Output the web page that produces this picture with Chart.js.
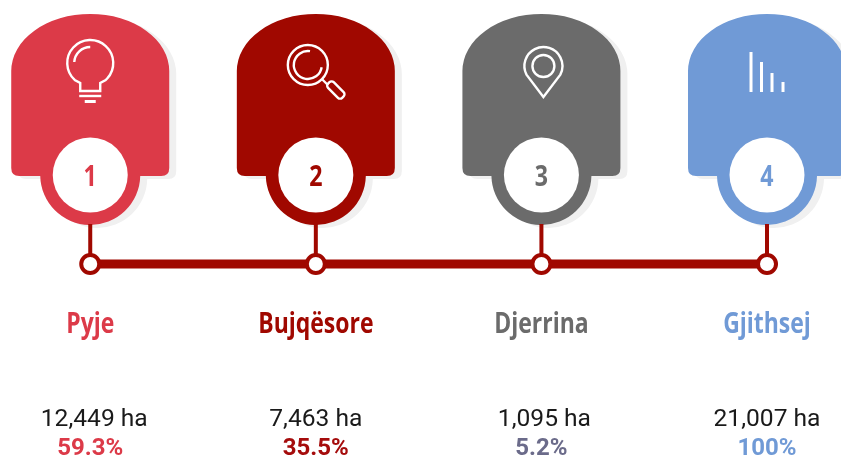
<!DOCTYPE html>
<html>
<head>
<meta charset="utf-8">
<title>Pyje Bujqësore Djerrina</title>
<script src="https://cdn.jsdelivr.net/npm/chart.js@4"></script>
<style>
    html, body { margin: 0; padding: 0; background: #fff; }
    canvas { display: block; }
</style>
</head>
<body>
<canvas id="timeline" width="841" height="457"></canvas>
<script>
// data //
const steps = [1, 2, 3, 4];
const categories = ["Pyje", "Bujqësore", "Djerrina", "Gjithsej"];
const hectares = [12449, 7463, 1095, 21007];
const shares = [59.3, 35.5, 5.2, 100];

// look //
const cardColors = ["#dc3a48", "#a00800", "#6b6b6b", "#709ad6"];
const shareColors = ["#dc3a48", "#a50c0c", "#6b6b8a", "#709ad6"];
const lineColor = "#a00800";
// the ha labels of the 1st and 3rd column sit a little right of the column
const valueNudge = [4, 0, 3, 0];

// no condensed font installed, so squeeze the normal one
function condensedText(ctx, text, x, y, squeeze) {
    ctx.save();
    ctx.translate(x, y);
    ctx.scale(squeeze, 1);
    ctx.fillText(text, 0, 0);
    ctx.restore();
}

// the body of one card, cx/ny are the column centre and the timeline height
function cardPath(ctx, cx, ny) {
    const top = ny - 250, shoulder = ny - 193, bottom = ny - 88;
    ctx.beginPath();
    ctx.moveTo(cx - 79, shoulder);
    ctx.ellipse(cx, shoulder, 79, shoulder - top, 0, Math.PI, 2 * Math.PI);
    ctx.lineTo(cx + 79, bottom - 8);
    ctx.quadraticCurveTo(cx + 79, bottom, cx + 71, bottom);
    ctx.lineTo(cx + 48, bottom);
    ctx.arc(cx, ny - 89, 50, 0.02, Math.PI - 0.02);
    ctx.lineTo(cx - 71, bottom);
    ctx.quadraticCurveTo(cx - 79, bottom, cx - 79, bottom - 8);
    ctx.closePath();
}

function drawBulb(ctx, cx, y) {
    ctx.beginPath();
    ctx.arc(cx, y, 23, 0.72 * Math.PI + 0.05, 0.28 * Math.PI - 0.05);
    ctx.lineTo(cx + 10, y + 20);
    ctx.lineTo(cx + 10, y + 28);
    ctx.lineTo(cx - 10, y + 28);
    ctx.lineTo(cx - 10, y + 20);
    ctx.closePath();
    ctx.stroke();
    ctx.beginPath();
    ctx.arc(cx, y, 16, 1.02 * Math.PI, 1.5 * Math.PI);
    ctx.stroke();
    ctx.beginPath();
    ctx.moveTo(cx - 11, y + 33);
    ctx.lineTo(cx + 11, y + 33);
    ctx.stroke();
    ctx.fillRect(cx - 5.5, y + 37, 11, 3);
}

function drawLens(ctx, cx, y) {
    const gx = cx - 8;
    ctx.beginPath();
    ctx.arc(gx, y, 20, 0, 2 * Math.PI);
    ctx.stroke();
    ctx.beginPath();
    ctx.arc(gx, y, 14, 0.05 * Math.PI, 1.55 * Math.PI);
    ctx.stroke();
    ctx.beginPath();
    ctx.moveTo(gx + 14, y + 14);
    ctx.lineTo(gx + 20, y + 20);
    ctx.stroke();
    // handle
    ctx.save();
    ctx.translate(gx + 28, y + 25);
    ctx.rotate(Math.PI / 4);
    ctx.beginPath();
    ctx.roundRect(-10, -4, 20, 8, 3);
    ctx.stroke();
    ctx.restore();
}

function drawPin(ctx, cx, y) {
    const px = cx + 2;
    ctx.beginPath();
    ctx.arc(px, y, 19, 0.85 * Math.PI, 0.15 * Math.PI);
    ctx.lineTo(px, y + 31);
    ctx.closePath();
    ctx.stroke();
    ctx.beginPath();
    ctx.arc(px, y, 11, 0, 2 * Math.PI);
    ctx.stroke();
}

function drawBars(ctx, cx, y) {
    [[-16, 40], [-5.5, 30], [5, 19], [16, 10]].forEach(function (bar) {
        ctx.fillRect(cx + bar[0] - 1.5, y + 27 - bar[1], 3, bar[1]);
    });
}

const icons = [drawBulb, drawLens, drawPin, drawBars];
const iconHeights = [63, 65, 66, 65];

// cards go under the timeline, the captions on top of everything
const cardsPlugin = {
    id: "cards",
    beforeDatasetsDraw(chart) {
        const ctx = chart.ctx;
        const ny = chart.scales.y.getPixelForValue(0);
        ctx.save();
        steps.forEach(function (step, i) {
            const cx = chart.scales.x.getPixelForValue(i);
            ctx.save();
            ctx.translate(7, 3);
            cardPath(ctx, cx, ny);
            ctx.fillStyle = "#f0f0f0";
            ctx.fill();
            ctx.restore();
        });
        steps.forEach(function (step, i) {
            const cx = chart.scales.x.getPixelForValue(i);
            cardPath(ctx, cx, ny);
            ctx.fillStyle = cardColors[i];
            ctx.fill();

            ctx.beginPath();
            ctx.arc(cx, ny - 89, 37.5, 0, 2 * Math.PI);
            ctx.fillStyle = "#fff";
            ctx.fill();

            ctx.fillStyle = cardColors[i];
            ctx.font = "bold 29px 'Open Sans'";
            ctx.textAlign = "center";
            ctx.textBaseline = "alphabetic";
            condensedText(ctx, String(step), cx, ny - 78, 0.8);

            ctx.strokeStyle = "#fff";
            ctx.fillStyle = "#fff";
            ctx.lineWidth = 2.4;
            icons[i](ctx, cx, iconHeights[i]);
        });
        ctx.restore();
    },
    afterDatasetsDraw(chart) {
        const ctx = chart.ctx;
        const ny = chart.scales.y.getPixelForValue(0);
        ctx.save();
        ctx.textAlign = "center";
        ctx.textBaseline = "alphabetic";
        categories.forEach(function (name, i) {
            const cx = chart.scales.x.getPixelForValue(i);
            ctx.fillStyle = cardColors[i];
            ctx.font = "bold 28px 'Open Sans'";
            condensedText(ctx, name, cx, ny + 69, 0.82);

            ctx.fillStyle = "#1a1a1a";
            ctx.font = "24.6px Roboto";
            ctx.fillText(hectares[i].toLocaleString("en-US") + " ha", cx + valueNudge[i], ny + 162);

            ctx.fillStyle = shareColors[i];
            ctx.font = "bold 24px Roboto";
            ctx.fillText(shares[i] + "%", cx, ny + 191);
        });
        ctx.restore();
    }
};

// vertical stems from the cards down to the line
const stems = steps.map(function (step, i) {
    return {
        data: [{ x: i, y: 0 }, { x: i, y: 40 }],
        showLine: true,
        borderColor: lineColor,
        borderWidth: 4,
        pointRadius: 0,
        order: 3
    };
});

new Chart(document.getElementById("timeline").getContext("2d"), {
    type: "scatter",
    data: {
        datasets: [
            {
                label: "nodes",
                data: steps.map(function (step, i) { return { x: i, y: 0 }; }),
                pointRadius: 9,
                pointBorderWidth: 4,
                pointBackgroundColor: "#fff",
                pointBorderColor: lineColor,
                order: 1
            },
            {
                label: "line",
                data: steps.map(function (step, i) { return { x: i, y: 0 }; }),
                showLine: true,
                borderColor: lineColor,
                borderWidth: 9,
                pointRadius: 0,
                order: 2
            }
        ].concat(stems)
    },
    options: {
        responsive: false,
        animation: false,
        events: [],
        layout: { padding: 0, autoPadding: false },
        plugins: { legend: { display: false }, tooltip: { enabled: false } },
        scales: {
            x: { type: "linear", display: false, min: -0.4, max: 3.328 },
            y: { type: "linear", display: false, min: -193, max: 264 }
        }
    },
    plugins: [cardsPlugin]
});
</script>
</body>
</html>
